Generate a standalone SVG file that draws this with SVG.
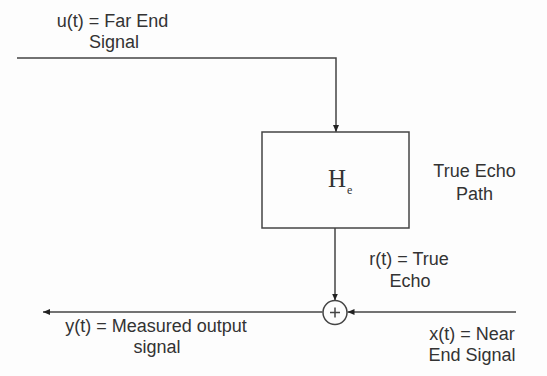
<svg xmlns="http://www.w3.org/2000/svg" width="547" height="376" viewBox="0 0 547 376">
<style>
.t{font-family:"Liberation Sans",Arial,sans-serif;font-size:18px;fill:#333;text-anchor:middle}
.ln{fill:none;stroke:#444;stroke-width:1.5}
.h{font-family:"Liberation Serif","Times New Roman",serif;fill:#333}
</style>
<defs>
<marker id="ah" markerUnits="userSpaceOnUse" markerWidth="8" markerHeight="8" refX="7" refY="4" orient="auto">
<path d="M0,1 L7,4 L0,7 Z" fill="#222"/>
</marker>
</defs>
<rect width="547" height="376" fill="#fdfdfd"/>
<g id="connectors">
<path class="ln" d="M17,58 H336 V132" marker-end="url(#ah)"/>
<path class="ln" d="M335,228 V300.5" marker-end="url(#ah)"/>
<path class="ln" d="M516,312 H347.5" marker-end="url(#ah)"/>
<path class="ln" d="M322.5,312 H43" marker-end="url(#ah)"/>
</g>
<g id="echo-path">
<rect class="ln" x="262" y="132" width="147" height="96"/>
<text class="h" x="328" y="187" font-size="25">H</text>
<text class="h" x="347" y="194" font-size="12">e</text>
</g>
<g id="sum">
<circle class="ln" cx="335" cy="312.5" r="12"/>
<path class="ln" d="M330,312.5 H340 M335,307.5 V317.5" stroke-width="1.2"/>
</g>
<g id="labels">
<text class="t" x="112.5" y="27">u(t) = Far End</text>
<text class="t" x="114" y="48">Signal</text>
<text class="t" x="474.5" y="177">True Echo</text>
<text class="t" x="474.5" y="200">Path</text>
<text class="t" x="409" y="265">r(t) = True</text>
<text class="t" x="410" y="287">Echo</text>
<text class="t" x="156" y="332">y(t) = Measured output</text>
<text class="t" x="157" y="353">signal</text>
<text class="t" x="472" y="340">x(t) = Near</text>
<text class="t" x="472" y="361">End Signal</text>
</g>
</svg>
